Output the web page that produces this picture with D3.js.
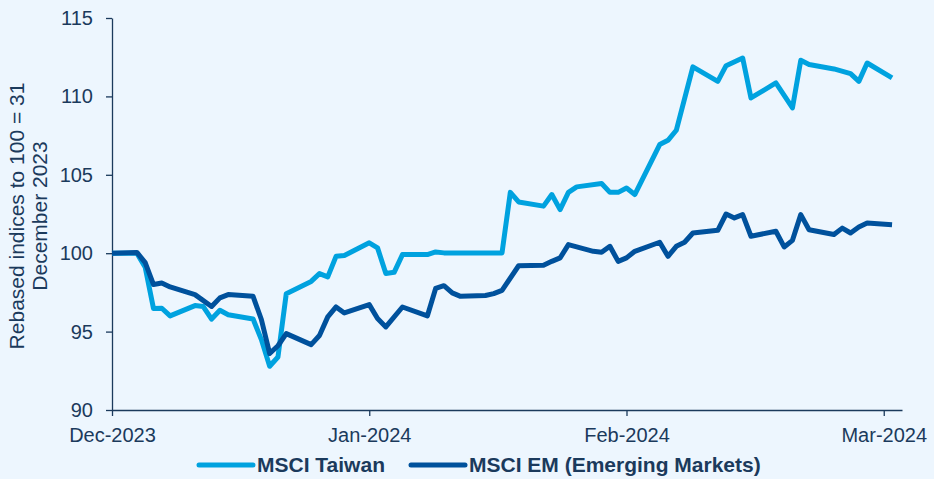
<!DOCTYPE html>
<html>
<head>
<meta charset="utf-8">
<script src="https://cdn.jsdelivr.net/npm/d3@7"></script>
<style>
  html, body { margin: 0; padding: 0; background: #edf6fe; }
  text { font-family: "Liberation Sans", Arial, sans-serif; fill: #1b3a5c; }
  .axis path, .axis line { stroke: #1b3a5c; stroke-width: 1.3; }
</style>
</head>
<body>
<div id="container"></div>
<script>
// day offsets from the first point
var taiwanDays = [0, 3, 4, 5, 6, 7, 10, 11, 12, 13, 14, 17, 18, 19, 20, 21, 24, 25, 26, 27, 28, 31, 32, 33, 34, 35, 38, 39, 40, 47, 48, 49, 52, 53, 54, 55, 56, 59, 60, 61, 62, 63, 66, 67, 68, 70, 73, 74, 76, 77, 80, 82, 83, 84, 87, 89, 90, 91, 94];
var taiwanValues = [100, 100, 99.1, 96.47, 96.49, 96.0, 96.66, 96.6, 95.8, 96.36, 96.08, 95.8, 94.49, 92.79, 93.38, 97.42, 98.2, 98.7, 98.49, 99.8, 99.85, 100.66, 100.34, 98.7, 98.78, 99.91, 99.91, 100.08, 100.02, 100.02, 103.88, 103.27, 103.0, 103.74, 102.78, 103.88, 104.23, 104.44, 103.88, 103.88, 104.16, 103.74, 106.93, 107.2, 107.84, 111.88, 110.96, 111.96, 112.45, 109.9, 110.86, 109.27, 112.3, 112.03, 111.75, 111.45, 110.96, 112.13, 111.18];

var emDays = [0, 3, 4, 5, 6, 7, 10, 12, 13, 14, 17, 18, 19, 20, 21, 24, 25, 26, 27, 28, 31, 32, 33, 35, 38, 39, 40, 41, 42, 45, 46, 47, 49, 52, 53, 54, 55, 58, 59, 60, 61, 62, 63, 66, 67, 68, 69, 70, 73, 74, 75, 76, 77, 80, 81, 82, 83, 84, 87, 88, 89, 90, 91, 94];
var emValues = [100, 100.05, 99.4, 98.0, 98.1, 97.85, 97.36, 96.6, 97.15, 97.36, 97.25, 95.77, 93.6, 94.1, 94.87, 94.17, 94.75, 95.94, 96.57, 96.19, 96.72, 95.83, 95.3, 96.57, 96.0, 97.75, 97.93, 97.47, 97.25, 97.3, 97.42, 97.63, 99.2, 99.23, 99.48, 99.7, 100.55, 100.12, 100.06, 100.44, 99.48, 99.7, 100.12, 100.7, 99.8, 100.44, 100.7, 101.29, 101.46, 102.5, 102.25, 102.46, 101.08, 101.4, 100.4, 100.82, 102.46, 101.5, 101.19, 101.6, 101.29, 101.67, 101.93, 101.82];

var tickDays = [0, 31, 62, 93];
var tickLabels = ["Dec-2023", "Jan-2024", "Feb-2024", "Mar-2024"];
var yTicks = [90, 95, 100, 105, 110, 115];

var seriesNames = ["MSCI Taiwan", "MSCI EM (Emerging Markets)"];
var seriesColors = ["#00a2df", "#00519c"];

var width = 934, height = 479;
var margin = {left: 112, right: 32, top: 18, bottom: 69};

var svg = d3.select("#container").append("svg")
    .attr("width", width)
    .attr("height", height)
    .style("display", "block")
    .style("background", "#edf6fe");

var x = d3.scaleLinear()
    .domain([0, 95.2])
    .range([margin.left, width - margin.right]);

var y = d3.scaleLinear()
    .domain([90, 115])
    .range([height - margin.bottom, margin.top]);

// axes
var xAxis = svg.append("g")
    .attr("class", "axis")
    .attr("transform", "translate(0," + y(90) + ")")
    .call(d3.axisBottom(x)
      .tickValues(tickDays)
      .tickSizeInner(6)
      .tickSizeOuter(0)
      .tickPadding(12)
      .tickFormat(function(d, i) { return tickLabels[i]; }));
xAxis.selectAll("text").style("font-size", "20px").attr("fill", "#1b3a5c");

var yAxis = svg.append("g")
    .attr("class", "axis")
    .attr("transform", "translate(" + margin.left + ",0)")
    .call(d3.axisLeft(y)
      .tickValues(yTicks)
      .tickSizeInner(6)
      .tickSizeOuter(0)
      .tickPadding(13));
yAxis.selectAll("text").style("font-size", "20px").attr("fill", "#1b3a5c");

// y axis title, two lines
var yTitle = svg.append("text")
    .attr("transform", "translate(24," + 216 + ") rotate(-90)")
    .attr("text-anchor", "middle")
    .style("font-size", "21px");
yTitle.append("tspan").attr("x", 0).attr("dy", 0).text("Rebased indices to 100 = 31");
yTitle.append("tspan").attr("x", 0).attr("dy", 23).text("December 2023");

// lines
var line = d3.line()
    .x(function(d) { return x(d[0]); })
    .y(function(d) { return y(d[1]); });

var series = [
  d3.zip(taiwanDays, taiwanValues),
  d3.zip(emDays, emValues)
];

// Taiwan first so EM sits on top where they cross
svg.selectAll(".series")
    .data([0, 1])
    .enter().append("path")
      .attr("class", "series")
      .attr("d", function(i) { return line(series[i]); })
      .attr("fill", "none")
      .attr("stroke", function(i) { return seriesColors[i]; })
      .attr("stroke-width", 5)
      .attr("stroke-linejoin", "round");

// legend
var legendX = [199, 411];
var legend = svg.selectAll(".legend")
    .data([0, 1])
    .enter().append("g")
      .attr("class", "legend")
      .attr("transform", function(i) { return "translate(" + legendX[i] + ",465)"; });

legend.append("line")
    .attr("x1", 0).attr("x2", 54)
    .attr("stroke", function(i) { return seriesColors[i]; })
    .attr("stroke-width", 5)
    .attr("stroke-linecap", "round");

legend.append("text")
    .attr("x", 58)
    .attr("y", 7)
    .style("font-size", "21px")
    .style("font-weight", "bold")
    .text(function(i) { return seriesNames[i]; });
</script>
</body>
</html>
